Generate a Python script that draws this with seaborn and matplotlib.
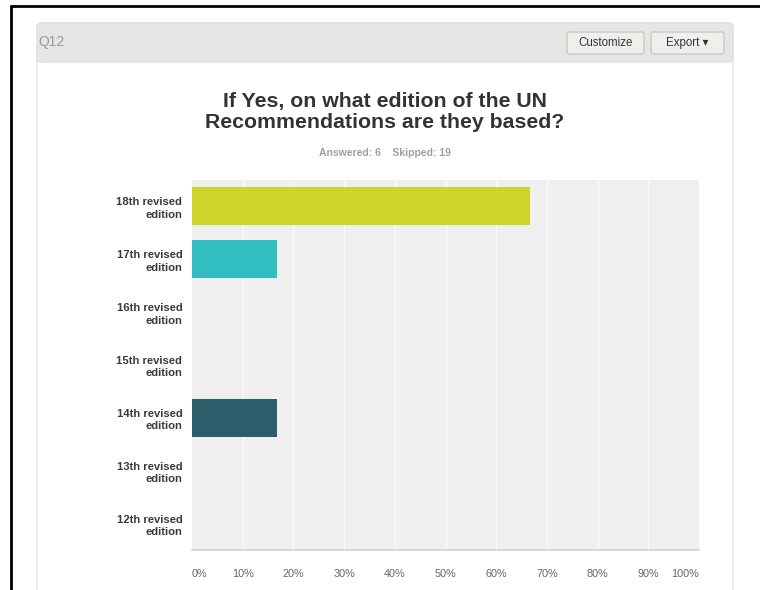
import matplotlib
matplotlib.use("Agg")
import matplotlib.pyplot as plt
import seaborn as sns
import pandas as pd
from matplotlib.patches import FancyBboxPatch
from matplotlib.lines import Line2D

categories = ["18th revised\nedition", "17th revised\nedition", "16th revised\nedition",
              "15th revised\nedition", "14th revised\nedition", "13th revised\nedition",
              "12th revised\nedition"]
values = [66.67, 16.67, 0, 0, 16.67, 0, 0]
bar_colors = ["#cdd42a", "#33bec1", "#33bec1", "#33bec1", "#2b5e6a", "#2b5e6a", "#2b5e6a"]
xticks = [0, 10, 20, 30, 40, 50, 60, 70, 80, 90, 100]
xtick_labels = [f"{t}%" for t in xticks]
title = "If Yes, on what edition of the UN\nRecommendations are they based?"
subtitle = "Answered: 6    Skipped: 19"

sns.set_theme(style="white")
plt.rcParams['font.family'] = ['Liberation Sans', 'DejaVu Sans']

W, H = 760, 590
fig = plt.figure(figsize=(W / 100, H / 100), dpi=100)
fig.patch.set_facecolor("white")

def px(x, y):
    return x / W, 1 - y / H

# outer black frame (top and left)
fig.add_artist(Line2D([11 / W, 1], [1 - 6 / H, 1 - 6 / H], color="black", lw=2, zorder=-5))
fig.add_artist(Line2D([11 / W, 11 / W], [0, 1 - 6 / H], color="black", lw=2, zorder=-5))

# card
card = FancyBboxPatch((37 / W, -0.05), (733 - 37) / W, (H - 23) / H + 0.05,
                      boxstyle="round,pad=0,rounding_size=0.006",
                      transform=fig.transFigure, facecolor="white", edgecolor="#e4e4e4", lw=1,
                      zorder=-4)
fig.add_artist(card)
header = FancyBboxPatch((37 / W, 1 - 62 / H), (733 - 37) / W, (62 - 23) / H,
                        boxstyle="round,pad=0,rounding_size=0.006",
                        transform=fig.transFigure, facecolor="#e6e6e6", edgecolor="#e0e0e0", lw=1,
                        zorder=-3)
fig.add_artist(header)
fig.text(*px(38, 42), "Q12", color="#9a9a9a", fontsize=10, va="center", ha="left")

# buttons
for (x0, x1, label) in [(567, 644, "Customize"), (651, 724, "Export \u25be")]:
    b = FancyBboxPatch((x0 / W, 1 - 54 / H), (x1 - x0) / W, (54 - 32) / H,
                       boxstyle="round,pad=0,rounding_size=0.004",
                       transform=fig.transFigure, facecolor="#efefeb", edgecolor="#c8c8c4", lw=1,
                       zorder=-2)
    fig.add_artist(b)
    fig.text(*px((x0 + x1) / 2, 43), label, color="#333333", fontsize=8.3,
             ha="center", va="center", family=['Liberation Sans', 'DejaVu Sans'])

fig.text(*px(385, 112), title, ha="center", va="center", fontsize=15.3, fontweight="bold",
         color="#333333", linespacing=1.2)
fig.text(*px(385, 153), subtitle, ha="center", va="center", fontsize=7.5, fontweight="bold",
         color="#a0a0a0")

# plot area
ax = fig.add_axes([192 / W, 1 - 550 / H, (699 - 192) / W, (550 - 180) / H])
ax.set_zorder(5)
ax.set_facecolor("#efefef")
df = pd.DataFrame({"cat": categories, "val": values})
sns.barplot(data=df, x="val", y="cat", hue="cat", palette=bar_colors, legend=False,
            orient="h", width=0.72, ax=ax, saturation=1, linewidth=0)
ax.set_xlim(0, 100)
ax.set_ylim(len(categories) - 0.5, -0.5)
ax.set_xticks(xticks)
ax.set_xticklabels(xtick_labels)
ax.set_xlabel("")
ax.set_ylabel("")
for t in xticks[1:-1]:
    ax.axvline(t, color="#fafafa", lw=1, zorder=0.5)
for s in ax.spines.values():
    s.set_visible(False)
ax.spines["bottom"].set_visible(True)
ax.spines["bottom"].set_color("#d4d4d4")
ax.tick_params(axis="x", length=0, pad=14, labelsize=7.8, labelcolor="#666666")
ax.tick_params(axis="y", length=0, pad=7, labelsize=8.1)
for lbl in ax.get_yticklabels():
    lbl.set_fontweight("bold")
    lbl.set_color("#3a3a3a")
    lbl.set_linespacing(1.3)
xl = ax.get_xticklabels()
xl[0].set_ha("left")
xl[-1].set_ha("right")
ax.set_axisbelow(True)

fig.savefig("out.png", dpi=100, facecolor="white")
